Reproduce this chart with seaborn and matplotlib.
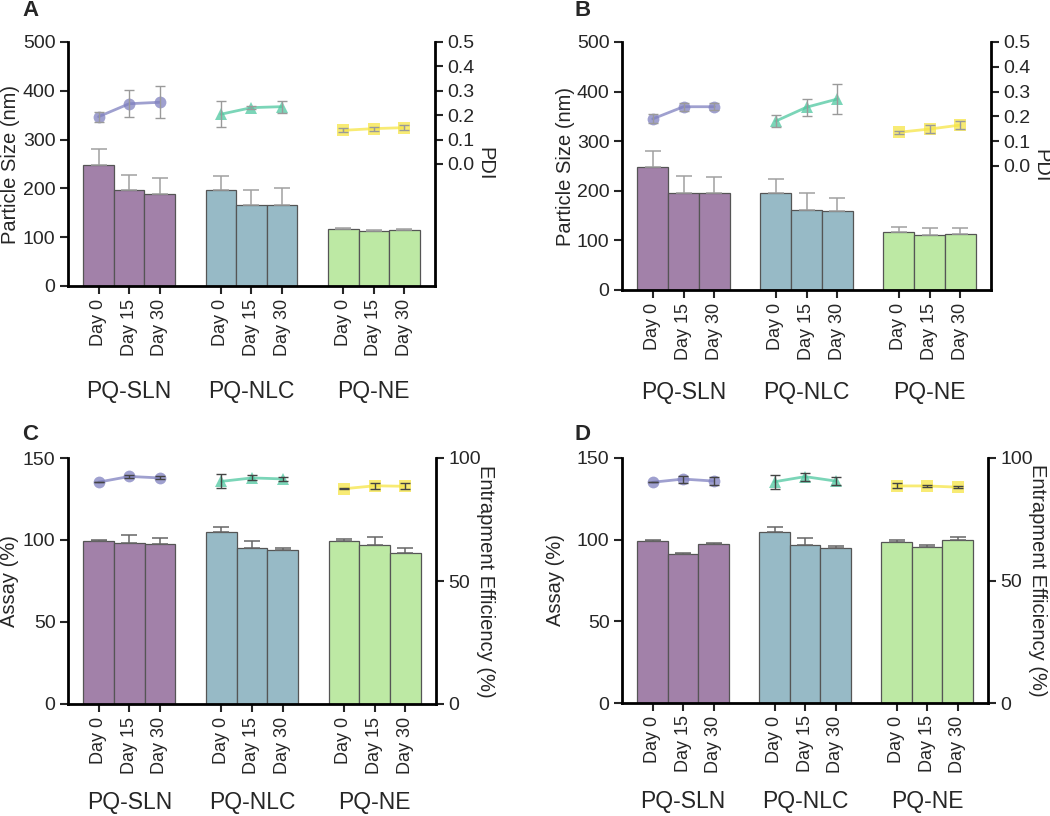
import numpy as np
import pandas as pd
import seaborn as sns
import matplotlib.pyplot as plt

sns.set_style("ticks")
plt.rcParams['font.family'] = ['Liberation Sans', 'DejaVu Sans']

days = ['Day 0', 'Day 15', 'Day 30']
groups = ['PQ-SLN', 'PQ-NLC', 'PQ-NE']

# A: particle size (nm) bars + PDI line
size_a = [247, 196, 189, 197, 165, 165, 116, 112, 114]
size_a_err = [34, 31, 32, 28, 32, 36, 2, 2, 2.5]
pdi_a = [0.194, 0.247, 0.253, 0.204, 0.231, 0.235, 0.138, 0.145, 0.149]
pdi_a_err = [0.02, 0.055, 0.066, 0.054, 0.006, 0.025, 0.008, 0.008, 0.01]

# B: particle size (nm) bars + PDI line
size_b = [247, 196, 196, 196, 161, 159, 116, 111, 113]
size_b_err = [34, 33, 31, 27, 35, 27, 12, 15, 12]
pdi_b = [0.19, 0.239, 0.239, 0.181, 0.237, 0.27, 0.136, 0.149, 0.165]
pdi_b_err = [0.018, 0.017, 0.015, 0.025, 0.034, 0.06, 0.005, 0.017, 0.017]

# C: assay (%) bars + entrapment efficiency (%) line
assay_c = [99.1, 98, 97.8, 104.8, 95.3, 94, 99.4, 97, 92]
assay_c_err = [0.8, 5, 3.5, 3.4, 4, 1.4, 1.2, 5, 3]
ee_c = [90.2, 92.5, 91.9, 90.5, 91.9, 91.5, 87.5, 88.7, 88.5]
ee_c_err = [0, 0.6, 0.6, 2.8, 1, 0.7, 0.3, 1.2, 1.2]

# D: assay (%) bars + entrapment efficiency (%) line
assay_d = [99, 91.5, 97.6, 104.7, 97, 95, 98.3, 95.7, 99.8]
assay_d_err = [0.5, 0.3, 0.4, 3.3, 4, 1.4, 1.2, 1.2, 1.9]
ee_d = [90.1, 91.4, 90.6, 90.3, 92.4, 90.6, 88.6, 88.6, 88.1]
ee_d_err = [0, 1.4, 1.6, 2.9, 1.6, 1.5, 1, 0.5, 0.5]

bar_colors = dict(zip(groups, ['#a281a9', '#97bac6', '#bde9a4']))
line_colors = dict(zip(groups, ['#7f80c0', '#4fc8a0', '#f6e545']))

# bar positions: three days per group, one empty slot between groups
pos = [g * 4 + d for g in range(3) for d in range(3)]


def panel(rect, bars, bars_err, line, line_err, left_ticks, left_label,
          right_lim, right_ticks, right_fmt, right_label, ecol, lcol,
          grp_off, lab_x):
    ax = fig.add_axes(rect)
    df = pd.DataFrame({'pos': pos, 'group': np.repeat(groups, 3),
                       'day': days * 3, 'bar': bars, 'line': line})
    sns.barplot(data=df, x='pos', y='bar', hue='group', hue_order=groups,
                palette=bar_colors, native_scale=True, width=1, saturation=1,
                errorbar=None, legend=False, edgecolor='#555555',
                linewidth=0.9, ax=ax)
    ax.errorbar(df['pos'], df['bar'], yerr=[np.zeros(9), bars_err],
                fmt='none', ecolor=ecol, elinewidth=1.1, capsize=5.5,
                capthick=1.1, zorder=1)
    ax.set_xlim(-1, 11)
    ax.set_ylim(left_ticks[0], left_ticks[-1])
    ax.set_yticks(left_ticks)
    ax.set_xticks(pos)
    ax.set_xticklabels(days * 3, rotation=90, fontsize=13)
    ax.set_xlabel('')
    ax.set_ylabel(left_label, fontsize=14.5, ha='center', va='center')
    ax.yaxis.set_label_coords(lab_x, 0.5)
    ax.tick_params(axis='both', direction='out', length=6, width=1.5, pad=3)
    ax.tick_params(axis='y', labelsize=14)
    for s in ['top', 'right']:
        ax.spines[s].set_visible(False)
    for s in ['left', 'bottom']:
        ax.spines[s].set_linewidth(2)
        ax.spines[s].set_color('black')
    for i, g in enumerate(groups):
        ax.annotate(g, xy=(i * 4 + 1, 0), xycoords=('data', 'axes fraction'),
                    xytext=(0, -grp_off), textcoords='offset points',
                    ha='center', va='center', fontsize=16.5)

    ax2 = ax.twinx()
    sns.lineplot(data=df, x='pos', y='line', hue='group', hue_order=groups,
                 style='group', style_order=groups, markers=['o', '^', 's'],
                 dashes=False, palette=line_colors, ax=ax2, legend=False,
                 markersize=8.5, linewidth=2, alpha=0.75, markeredgewidth=0,
                 errorbar=None)
    ax2.errorbar(df['pos'], df['line'], yerr=line_err, fmt='none',
                 ecolor=lcol, elinewidth=1, capsize=3.5, capthick=1)
    ax2.set_xlim(-1, 11)
    ax2.set_ylim(*right_lim)
    ax2.set_yticks(right_ticks)
    ax2.set_yticklabels([right_fmt.format(t) for t in right_ticks])
    ax2.set_xlabel('')
    ax2.set_ylabel(right_label, fontsize=14.5, rotation=270,
                   ha='center', va='center')
    ax2.yaxis.set_label_coords(1.135, 0.5)
    ax2.tick_params(axis='y', direction='out', length=6, width=1.5,
                    labelsize=14, pad=3)
    for s in ['top', 'left', 'bottom']:
        ax2.spines[s].set_visible(False)
    ax2.spines['right'].set_linewidth(2)
    ax2.spines['right'].set_color('black')
    return ax, ax2


fig = plt.figure(figsize=(10.5, 8.16), dpi=100)

size_ticks = [0, 100, 200, 300, 400, 500]
pdi_ticks = [0.0, 0.1, 0.2, 0.3, 0.4, 0.5]
assay_ticks = [0, 50, 100, 150]
ee_ticks = [0, 50, 100]

panel([68 / 1050, 1 - 286 / 816, 367 / 1050, 244 / 816], size_a, size_a_err,
      pdi_a, pdi_a_err, size_ticks, 'Particle Size (nm)', (-0.5, 0.5),
      pdi_ticks, '{:.1f}', 'PDI', '#a0a0a0', '#9a9a9a', 76, -0.158)
panel([622 / 1050, 1 - 290 / 816, 369 / 1050, 248 / 816], size_b, size_b_err,
      pdi_b, pdi_b_err, size_ticks, 'Particle Size (nm)', (-0.5, 0.5),
      pdi_ticks, '{:.1f}', 'PDI', '#a0a0a0', '#9a9a9a', 74, -0.154)
panel([68 / 1050, 1 - 704 / 816, 368 / 1050, 246 / 816], assay_c, assay_c_err,
      ee_c, ee_c_err, assay_ticks, 'Assay (%)', (0, 100),
      ee_ticks, '{:.0f}', 'Entrapment Efficiency (%)', '#666666', '#444444',
      71, -0.158)
panel([622 / 1050, 1 - 703 / 816, 366 / 1050, 245 / 816], assay_d, assay_d_err,
      ee_d, ee_d_err, assay_ticks, 'Assay (%)', (0, 100),
      ee_ticks, '{:.0f}', 'Entrapment Efficiency (%)', '#666666', '#444444',
      71, -0.183)

for letter, x, y in [('A', 22, 11), ('B', 575, 11), ('C', 22, 434), ('D', 575, 434)]:
    fig.text(x / 1050, 1 - y / 816, letter, fontsize=16, fontweight='bold',
             ha='left', va='center')

fig.savefig('out.png', dpi=100)
